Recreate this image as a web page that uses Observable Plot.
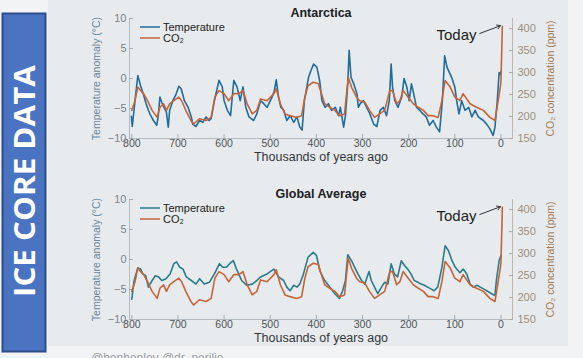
<!DOCTYPE html>
<html><head><meta charset="utf-8">
<script src="https://cdn.jsdelivr.net/npm/d3@7"></script>
<script src="https://cdn.jsdelivr.net/npm/@observablehq/plot@0.6"></script>
<style>
html,body{margin:0;padding:0;background:#f1f3f4;}
#root{position:relative;width:583px;height:358px;overflow:hidden;font-family:"Liberation Sans",Arial,sans-serif;}
#panel{position:absolute;left:48px;top:0;width:520px;height:346px;background:#e7ebed;}
#root svg{position:absolute;left:0;}
</style></head><body><div id="root"><div id="panel"></div></div>
<script>
// ---- data (ages in thousands of years ago) ----
const antAge = [801,799,793,787,781,775,769,764,759,753,746,743,739,735,731,725,721,718,711,704,698,693,686,678,671,668,661,653,646,639,633,628,621,611,604,600,593,586,579,572,565,559,553,546,536,529,521,514,507,496,491,487,482,477,471,464,457,449,442,436,431,426,417,412,406,399,393,388,381,374,367,359,352,348,341,337,332,329,325,319,312,309,305,298,291,284,276,269,262,255,248,242,238,235,230,223,215,210,204,199,194,189,183,176,169,162,155,147,140,133,127,122,117,107,100,96,91,85,78,70,63,56,49,38,31,24,17,13,8,4,2,0];
const antTemp = [-6.3,-8.0,-3.7,0.5,-1.2,-2.6,-4.2,-5.3,-6.2,-7.0,-7.8,-6.4,-3.1,-4.0,-4.7,-5.6,-8.1,-5.3,-3.7,-2.6,-1.3,-1.7,-3.7,-4.8,-6.4,-7.6,-8.0,-7.0,-7.3,-6.4,-7.0,-6.7,-3.7,-0.3,-1.4,-3.7,-5.3,-6.2,-0.3,-1.4,-3.7,-1.4,-4.8,-6.4,-7.0,-5.9,-3.7,-4.2,-4.8,-3.1,-2.0,-0.2,-3.1,-4.8,-5.3,-7.0,-6.2,-7.3,-6.4,-8.1,-8.6,-3.7,0.2,1.3,2.4,1.9,-0.3,-3.7,-4.8,-4.2,-5.3,-4.8,-6.2,-4.8,-8.1,-6.2,-0.9,4.7,0.2,-0.9,-2.6,-4.8,-4.2,-3.7,-4.8,-5.9,-7.6,-8.0,-5.3,-4.8,-6.2,-3.7,2.4,-1.4,-3.7,-4.8,-3.1,0.0,-1.4,-3.7,-0.9,-2.6,-4.8,-5.3,-5.9,-6.4,-7.8,-7.0,-8.1,-8.9,-3.7,3.8,1.9,0.2,-1.4,-3.7,-5.9,-3.7,-5.3,-4.8,-6.4,-5.3,-6.4,-7.0,-7.6,-8.4,-9.5,-8.1,-3.7,1.0,0.6,1.2];

const globAge = [800,795,787,781,776,770,764,756,749,742,735,726,717,709,703,696,689,682,671,661,653,643,632,621,610,603,595,588,580,573,562,551,539,529,521,507,492,482,471,464,457,449,442,436,428,418,407,400,392,382,371,360,350,343,337,332,324,317,310,302,295,286,281,274,267,259,252,245,238,231,224,216,209,202,195,188,180,173,166,159,152,145,137,128,121,114,106,99,89,82,74,67,60,52,45,38,31,20,13,10,4,0];
const globTemp = [-6.6,-3.5,-1.4,-1.6,-2.4,-2.7,-4.6,-3.5,-2.7,-2.9,-3.5,-3.2,-2.4,-0.7,-0.4,-1.3,-1.6,-2.9,-3.5,-4.1,-3.2,-4.1,-3.8,-2.4,-0.7,-1.3,-1.3,-0.7,-0.2,-1.6,-3.5,-4.3,-4.1,-3.5,-2.9,-2.4,-1.6,-2.9,-3.5,-4.6,-5.2,-4.3,-4.6,-4.1,-2.4,0.4,1.2,0.7,-2.0,-3.5,-4.6,-5.7,-6.5,-5.2,-3.5,0.8,-0.2,-1.3,-2.4,-3.5,-4.1,-2.0,-3.5,-4.6,-5.7,-4.6,-3.8,-4.1,-0.7,-2.4,-2.9,-0.2,-1.0,-1.6,-2.4,-3.5,-3.8,-4.1,-4.3,-4.6,-4.9,-5.2,-4.6,-1.3,2.3,1.5,-0.2,-1.3,-2.2,-1.6,-2.4,-4.1,-4.6,-4.3,-4.6,-4.9,-5.2,-5.7,-6.0,-3.5,-0.2,0.7];

const co2Age = [800,793,787,781,775,766,756,745,739,731,725,718,709,698,692,683,672,666,653,639,628,620,611,600,590,579,568,559,550,539,529,521,507,492,487,478,468,457,443,432,425,418,407,396,389,382,371,360,350,339,331,324,313,306,295,285,274,263,252,241,235,226,219,212,201,190,179,168,158,147,136,128,121,110,100,89,82,67,53,38,24,13,6,1,0,-3];
const co2Ppm = [214,236,267,259,253,236,214,198,221,229,214,229,236,244,236,214,191,183,195,191,198,244,259,252,236,252,252,259,229,206,214,240,236,252,263,229,206,202,198,202,244,270,278,275,252,229,221,214,202,206,290,267,244,236,233,214,198,206,214,259,259,229,236,259,244,229,221,214,202,202,198,236,282,267,244,236,252,229,221,214,198,191,236,270,280,405];

const xTicks = [800,700,600,500,400,300,200,100,0];
const tempTicks = [-10,-5,0,5,10];
const co2Ticks = [150,200,250,300,350,400];
const panelTitles = ["Antarctica","Global Average"];
const seriesNames = ["Temperature","CO₂"];
const xLabel = "Thousands of years ago";
const tempLabel = "Temperature anomaly (°C)";
const co2Label = "CO₂ concentration (ppm)";
const todayNote = {text:"Today", age:53, temp:7.2};
const todayArrow = {age1:46, temp1:7.5, age2:1, temp2:8.8};
const bannerText = "ICE CORE DATA";
const credit = "@benhenley  @dr_nerilie";

const co2Color = "#c5643b";
const font = '"Liberation Sans", Arial, Helvetica, sans-serif';
const root = document.getElementById("root");
const blank = () => "";

function makePanel(topPx, title, ages, temps, tColor) {
  const W = 583, H = 165;
  const base = {width:W, height:H, marginLeft:129, marginRight:71, marginTop:18, marginBottom:27,
    style:{background:"transparent", fontFamily:font, overflow:"visible"}};
  const tempRows = ages.map((a,i)=>({age:a, v:temps[i]}));
  const co2Rows = co2Age.map((a,i)=>({age:a, v:co2Ppm[i]}));
  const left = Plot.plot({...base, x:{domain:[805,-25], label:null}, y:{domain:[-10,10], label:null},
    marks:[
      Plot.ruleX([805], {stroke:"#b3bac0"}),
      Plot.ruleY([-10], {stroke:"#b3bac0"}),
      Plot.axisX(xTicks, {anchor:"bottom", tickSize:4, dy:-4, tickFormat:blank, stroke:"#a6adb3", label:null}),
      Plot.axisX(xTicks, {anchor:"bottom", tickSize:0, tickPadding:1.5, fontSize:10.5, fill:"#4e5358", label:null}),
      Plot.axisY(tempTicks, {anchor:"left", tickSize:4, dx:4, tickFormat:blank, stroke:"#a6adb3", label:null}),
      Plot.axisY(tempTicks, {anchor:"left", tickSize:0, tickPadding:3, fontSize:11, fill:"#7b838a", label:null}),
      Plot.text([xLabel], {frameAnchor:"bottom", dy:18.5, lineAnchor:"middle", fontSize:12.5, fill:"#33373b"}),
      Plot.text([title], {frameAnchor:"top", dy:-6, lineAnchor:"middle", fontSize:12.5, fontWeight:"bold", fill:"#1c2024"}),
      Plot.text([tempLabel], {frameAnchor:"left", dx:-33, rotate:-90, textAnchor:"middle", fontSize:10.5, fill:"#6a8698"}),
      Plot.line(tempRows, {x:"age", y:"v", stroke:tColor, strokeWidth:1.6}),
      Plot.text([todayNote], {x:"age", y:"temp", text:"text", textAnchor:"end", fontSize:15, fill:"#222"}),
      Plot.arrow([todayArrow], {x1:"age1", y1:"temp1", x2:"age2", y2:"temp2", stroke:"#333", strokeWidth:1, headLength:6})
    ]});
  const right = Plot.plot({...base, x:{domain:[805,-25], label:null, axis:null}, y:{domain:[150,423], label:null},
    marks:[
      Plot.ruleX([-25], {stroke:"#c0b7ae"}),
      Plot.axisY(co2Ticks, {anchor:"right", tickSize:4, dx:-4, tickFormat:blank, stroke:"#b0a69c", label:null}),
      Plot.axisY(co2Ticks, {anchor:"right", tickSize:0, tickPadding:5, fontSize:11, fill:"#9b8e81", label:null}),
      Plot.text([co2Label], {frameAnchor:"right", dx:38, rotate:-90, textAnchor:"middle", fontSize:10.5, fill:"#a67a55"}),
      Plot.line(co2Rows, {x:"age", y:"v", stroke:co2Color, strokeWidth:1.6})
    ]});
  for (const s of [left, right]) { s.style.top = topPx + "px"; root.appendChild(s); }
  const g = d3.select(right).append("g").attr("font-family", font).attr("text-anchor","start");
  [[seriesNames[0], tColor, 9], [seriesNames[1], co2Color, 20]].forEach(([t,c,dy]) => {
    g.append("line").attr("x1",140).attr("x2",160).attr("y1",18+dy).attr("y2",18+dy)
      .attr("stroke",c).attr("stroke-width",1.5);
    g.append("text").attr("x",163).attr("y",18+dy).attr("dy","0.35em").attr("text-anchor","start")
      .attr("font-size",11).attr("fill","#222").text(t);
  });
}

// banner
const bsvg = d3.select(root).append("svg").attr("width",583).attr("height",358).style("top","0px");
bsvg.append("rect").attr("x",2.5).attr("y",13.5).attr("width",43).attr("height",338)
  .attr("fill","#4a74c2").attr("stroke","#2d4d8a").attr("stroke-width",2);
bsvg.append("text").attr("transform","translate(24.5,181) rotate(-90)")
  .attr("text-anchor","middle").attr("dy","0.36em")
  .attr("font-family",'"Open Sans","Noto Sans",sans-serif').attr("font-weight","bold")
  .attr("font-size",28).attr("fill","#ffffff")
  .attr("textLength",232).attr("lengthAdjust","spacingAndGlyphs").text(bannerText);
bsvg.append("text").attr("x",91).attr("y",362).attr("font-family",font)
  .attr("font-size",12).attr("fill","#9aa0a5").text(credit);

makePanel(0, panelTitles[0], antAge, antTemp, "#226c9c");
makePanel(181, panelTitles[1], globAge, globTemp, "#2c7b89");
</script></body></html>
